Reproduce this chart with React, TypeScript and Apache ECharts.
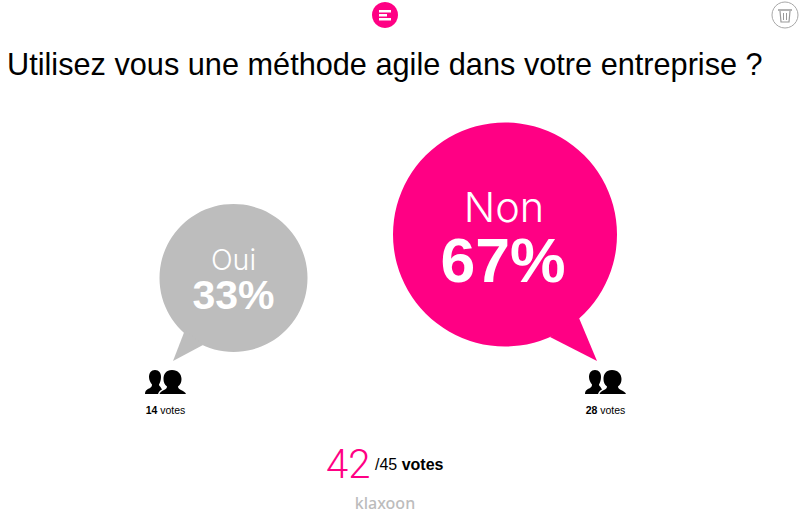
import React, { useEffect, useRef } from "react";
import * as echarts from "echarts";

const title = "Utilisez vous une méthode agile dans votre entreprise ?";
const answers = ["Oui", "Non"];
const percents = [33, 67];
const votes = [14, 28];
const totalVotes = 42;
const expectedVotes = 45;

const PINK = "#ff0084";
const GREY = "#bdbdbd";
const SANS = "'Liberation Sans', Arial, sans-serif";
const LIGHT = "Inter, 'Liberation Sans', sans-serif";

const personA =
  "M10 0C6 0 4 3 4 7C4 10 5.500 13 7 14.500C7 16 6.500 17 5 18C3 19 0 20 0 24H13C14 21 16 20 17 19.500L15.500 17C14.500 16 14 15.500 14 14.500C15 13 16 10 16 7C16 3 14 0 10 0Z";
const personB =
  "M27 0C21 0 18.500 4 18.500 9C18.500 12 19.500 15 22 16.500C22 18 21 19 19 20C17 21 15 22 14.500 24H41C40.500 22 38 21 36 20C34 19 33 18 33 16.500C35.500 15 36.500 12 36.500 9C36.500 4 33 0 27 0Z";

const tails = [
  { a: [-48.5, 52], tip: [-60.5, 83], b: [-30.5, 67] },
  { a: [74, 83.5], tip: [92, 126.5], b: [45, 102.5] },
];
const iconX = [145, 585];

function renderBubble(params: any, api: any) {
  const i = params.dataIndex;
  const c = api.coord([api.value(0), api.value(1)]);
  const r = i === 0 ? 74 : 112;
  const fill = i === 0 ? GREY : PINK;
  const t = tails[i];
  const big = i === 1;
  return {
    type: "group",
    children: [
      { type: "circle", shape: { cx: c[0], cy: c[1], r }, style: { fill } },
      {
        type: "polygon",
        shape: { points: [[c[0] + t.a[0], c[1] + t.a[1]], [c[0] + t.tip[0], c[1] + t.tip[1]], [c[0] + t.b[0], c[1] + t.b[1]]] },
        style: { fill },
      },
      {
        type: "text",
        style: {
          x: c[0] - (big ? 1 : 0), y: c[1] + (big ? -28 : -18), text: answers[i], fill: "#fff", align: "center", verticalAlign: "middle",
          font: `300 ${big ? 41.5 : 28.5}px ${LIGHT}`,
        },
      },
      {
        type: "text",
        style: {
          x: c[0] - (big ? 2 : 0), y: c[1] + (big ? 25.5 : 17), text: `${percents[i]}%`, fill: "#fff", align: "center", verticalAlign: "middle",
          font: `bold ${big ? 62.5 : 41}px ${SANS}`,
        },
      },
      {
        type: "group", x: iconX[i], y: 370,
        children: [
          { type: "path", shape: { pathData: personA, x: 0, y: 0, width: 17, height: 24 }, style: { fill: "#000" } },
          { type: "path", shape: { pathData: personB, x: 14.5, y: 0, width: 26.5, height: 24 }, style: { fill: "#000" } },
        ],
      },
      {
        type: "text",
        style: {
          x: iconX[i] + 20.5, y: 410, align: "center", verticalAlign: "middle",
          rich: { b: { font: `bold 10.5px ${SANS}`, fill: "#000" }, n: { font: `10.5px ${SANS}`, fill: "#000" } },
          text: `{b|${votes[i]}}{n| votes}`,
        },
      },
    ],
  };
}

export default function App() {
  const ref = useRef<HTMLDivElement>(null);
  useEffect(() => {
    const chart = echarts.init(ref.current!, undefined, { renderer: "svg" });
    chart.setOption({
      animation: false,
      backgroundColor: "#fff",
      grid: { left: 97.75, width: 543, top: 192.3, height: 127.9 },
      xAxis: { type: "category", data: answers, show: false },
      yAxis: { type: "value", min: 0, max: 100, show: false },
      series: [
        {
          type: "custom",
          clip: false,
          coordinateSystem: "cartesian2d",
          data: answers.map((a, i) => [a, percents[i]]),
          encode: { x: 0, y: 1 },
          renderItem: renderBubble,
        },
      ],
      graphic: [
        { type: "circle", shape: { cx: 385, cy: 15, r: 13 }, style: { fill: PINK } },
        { type: "rect", shape: { x: 379, y: 10, width: 12, height: 2.5 }, style: { fill: "#fff" } },
        { type: "rect", shape: { x: 379, y: 14, width: 8, height: 2.5 }, style: { fill: "#fff" } },
        { type: "rect", shape: { x: 379, y: 18, width: 12, height: 2.5 }, style: { fill: "#fff" } },
        { type: "circle", shape: { cx: 785, cy: 15, r: 13 }, style: { fill: "#fff", stroke: "#a8a8a8", lineWidth: 1 } },
        { type: "line", shape: { x1: 778, y1: 10, x2: 792, y2: 10 }, style: { stroke: "#9a9a9a", lineWidth: 1.5 } },
        { type: "polyline", shape: { points: [[780, 11], [781, 22], [789, 22], [790, 11]] }, style: { fill: "none", stroke: "#9a9a9a", lineWidth: 1.2 } },
        { type: "line", shape: { x1: 783.5, y1: 13, x2: 783.5, y2: 20 }, style: { stroke: "#9a9a9a", lineWidth: 1 } },
        { type: "line", shape: { x1: 786.5, y1: 13, x2: 786.5, y2: 20 }, style: { stroke: "#9a9a9a", lineWidth: 1 } },
        { type: "text", x: 7, y: 64, style: { text: title, fill: "#000", font: `30.7px ${SANS}`, verticalAlign: "middle" } },
        { type: "text", x: 326, y: 464, style: { text: String(totalVotes), fill: PINK, font: `300 40px Roboto, ${SANS}`, verticalAlign: "middle" } },
        {
          type: "text", x: 375, y: 464,
          style: {
            verticalAlign: "middle",
            rich: { n: { font: `16px ${SANS}`, fill: "#000" }, b: { font: `bold 16px ${SANS}`, fill: "#000" } },
            text: `{n|/${expectedVotes} }{b|votes}`,
          },
        },
        { type: "text", x: 385, y: 503, style: { text: "klaxoon", fill: "#bcbcbc", align: "center", verticalAlign: "middle", font: `500 16px 'Noto Sans', ${SANS}` } },
      ],
    });
    return () => chart.dispose();
  }, []);
  return <div ref={ref} style={{ position: "absolute", left: 0, top: 0, width: 800, height: 516 }} />;
}
